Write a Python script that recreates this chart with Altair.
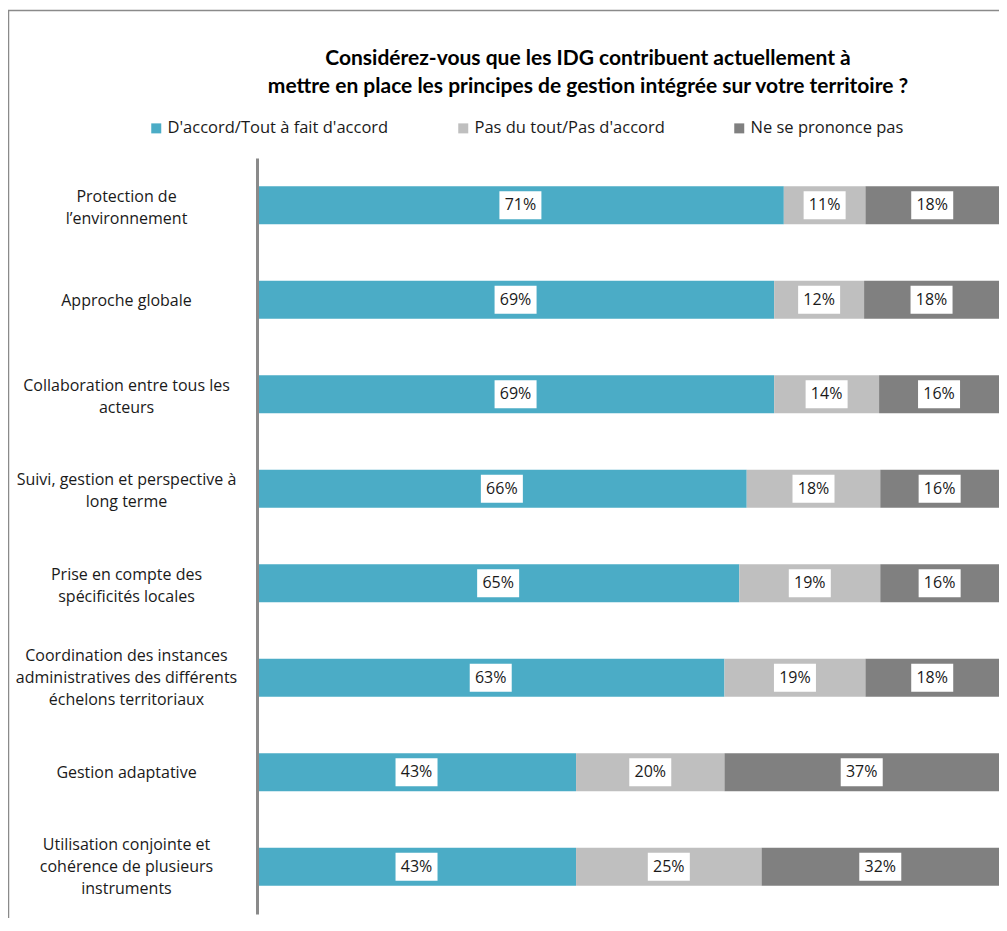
import altair as alt
import pandas as pd

categories = [
    "Protection de|l’environnement",
    "Approche globale",
    "Collaboration entre tous les|acteurs",
    "Suivi, gestion et perspective à|long terme",
    "Prise en compte des|spécificités locales",
    "Coordination des instances|administratives des différents|échelons territoriaux",
    "Gestion adaptative",
    "Utilisation conjointe et|cohérence de plusieurs|instruments",
]
accord = [71, 69, 69, 66, 65, 63, 43, 43]
pas_accord = [11, 12, 14, 18, 19, 19, 20, 25]
ne_se_prononce = [18, 18, 16, 16, 16, 18, 37, 32]
series = ["D'accord/Tout à fait d'accord", "Pas du tout/Pas d'accord", "Ne se prononce pas"]
colors = ["#4BACC6", "#BFBFBF", "#808080"]
title_lines = [
    "Considérez-vous que les IDG contribuent actuellement à",
    "mettre en place les principes de gestion intégrée sur votre territoire ?",
]

rows = []
for i, cat in enumerate(categories):
    for j, vals in enumerate([accord, pas_accord, ne_se_prononce]):
        rows.append({"cat": cat, "series": series[j], "value": vals[i], "order": j,
                     "lbl": f"{vals[i]}%"})
df = pd.DataFrame(rows)

FONT = "Open Sans"

base = alt.Chart(df).transform_stack(
    stack="value", groupby=["cat"], as_=["x0", "x1"], offset="normalize",
    sort=[alt.SortField("order")]
).transform_calculate(mid="(datum.x0 + datum.x1) / 2")

label_offset = {
    "condition": [
        {"test": "length(split(datum.label, '|')) == 3", "value": -21.5},
        {"test": "length(split(datum.label, '|')) == 2", "value": -8.5},
    ],
    "value": 1,
}

yenc = alt.Y(
    "cat:N", sort=categories, title=None,
    scale=alt.Scale(paddingInner=0, paddingOuter=0),
    axis=alt.Axis(
        labelExpr="split(datum.label, '|')", labelAlign="center", labelPadding=131,
        labelFont=FONT, labelFontSize=16, labelColor="#1a1a1a", labelLineHeight=22,
        labelLimit=300, labelBaseline="middle", labelOffset=label_offset,
        ticks=False, tickSize=0,
        domainColor="#8a8a8a", domainWidth=3, zindex=2, grid=False,
    ),
)
xscale = alt.Scale(domain=[0, 1])

bars = base.mark_bar(size=38).encode(
    x=alt.X("x0:Q", scale=xscale, axis=None),
    x2="x1:Q",
    y=yenc,
    color=alt.Color(
        "series:N", scale=alt.Scale(domain=series, range=colors),
        legend=alt.Legend(
            orient="none", legendX=-109, legendY=-38, direction="horizontal",
            title=None, symbolType="square", symbolSize=100, symbolStrokeWidth=0,
            labelFont=FONT, labelFontSize=16.5, labelColor="#1a1a1a", labelLimit=400,
            columnPadding=66, labelOffset=3,
        ),
    ),
    order=alt.Order("order:Q"),
)

boxes = base.mark_point(
    shape="M-1,-0.667L1,-0.667L1,0.667L-1,0.667Z", size=1764, filled=True,
    fill="white", opacity=1, strokeWidth=0,
).encode(x=alt.X("mid:Q", scale=xscale, axis=None), y=yenc)

texts = base.mark_text(font=FONT, fontSize=16, color="#1a1a1a").encode(
    x=alt.X("mid:Q", scale=xscale, axis=None), y=yenc, text="lbl:N"
)

frame = alt.Chart(alt.Data(values=[{}])).mark_rect(
    fill="transparent", stroke="#8a8a8a", strokeWidth=1.5
).encode(
    x=alt.value(-248.5), x2=alt.value(770), y=alt.value(-147.5), y2=alt.value(800)
)

chart = alt.layer(frame, bars, boxes, texts).properties(
    width=742, height=756,
    title=alt.TitleParams(
        text=title_lines, font="Lato", fontSize=21, fontWeight="bold", color="#000000",
        anchor="middle", frame="group", dx=-40, offset=-87, lineHeight=28,
    ),
    autosize=alt.AutoSizeParams(type="none"),
    padding={"left": 249, "top": 150, "right": 0, "bottom": 4},
).configure_view(stroke=None)

chart.save("out.html", embed_options={"renderer": "svg", "actions": False})
